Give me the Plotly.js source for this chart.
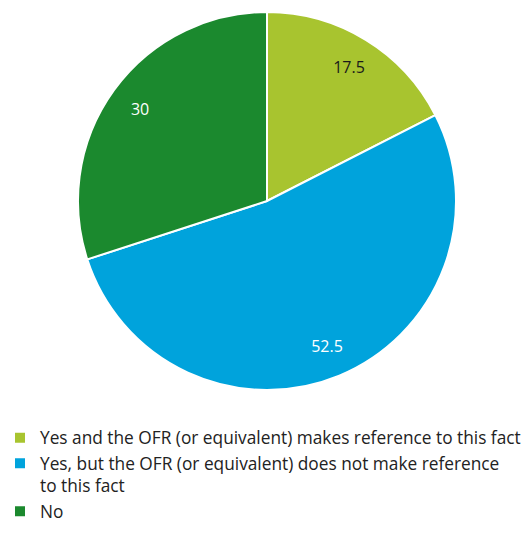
<!DOCTYPE html>
<html>
<head>
<meta charset="utf-8">
<script src="https://cdn.plot.ly/plotly-3.0.1.min.js"></script>
<style>html,body{margin:0;padding:0;background:#fff;}#chart{width:532px;height:535px;}</style>
</head>
<body>
<div id="chart"></div>
<script>
const labels = [
  "Yes and the OFR (or equivalent) makes reference to this fact",
  "Yes, but the OFR (or equivalent) does not make reference<br>to this fact",
  "No"
];
const values = [17.5, 52.5, 30];
const colors = ["#a8c42f", "#00a3dc", "#1b892e"];
const textColors = ["#1a1a1a", "#ffffff", "#ffffff"];

const W = 532, H = 535;
const cx = 267, cy = 201, R = 189;
const domain = {
  x: [(cx - R) / W, (cx + R) / W],
  y: [1 - (cy + R) / H, 1 - (cy - R) / H]
};

// Filled pie (slices and legend)
const pieTrace = {
  type: "pie",
  labels: labels,
  values: values,
  sort: false,
  direction: "clockwise",
  rotation: 0,
  marker: {colors: colors, line: {color: "#ffffff", width: 2}},
  textinfo: "none",
  hoverinfo: "label+value",
  domain: domain
};

// Same data as a transparent ring so value labels sit near the outer edge
const labelTrace = {
  type: "pie",
  labels: labels,
  values: values,
  sort: false,
  direction: "clockwise",
  rotation: 0,
  hole: 0.66,
  showlegend: false,
  marker: {colors: ["rgba(0,0,0,0)", "rgba(0,0,0,0)", "rgba(0,0,0,0)"], line: {width: 0}},
  textinfo: "value",
  textposition: "inside",
  insidetextorientation: "horizontal",
  textfont: {family: "Open Sans, sans-serif", size: 16, color: textColors},
  hoverinfo: "skip",
  domain: domain
};

const layout = {
  width: W, height: H,
  margin: {l: 0, r: 0, t: 0, b: 0, autoexpand: false},
  paper_bgcolor: "#ffffff",
  showlegend: true,
  legend: {
    orientation: "v",
    xref: "paper", yref: "paper",
    x: 0, y: 1 - 420 / H,
    xanchor: "left", yanchor: "top",
    valign: "top",
    font: {family: "Open Sans, sans-serif", size: 17.3, color: "#222222"},
    bgcolor: "rgba(0,0,0,0)"
  }
};

Plotly.newPlot("chart", [pieTrace, labelTrace], layout, {displayModeBar: false, staticPlot: true});
</script>
</body>
</html>
